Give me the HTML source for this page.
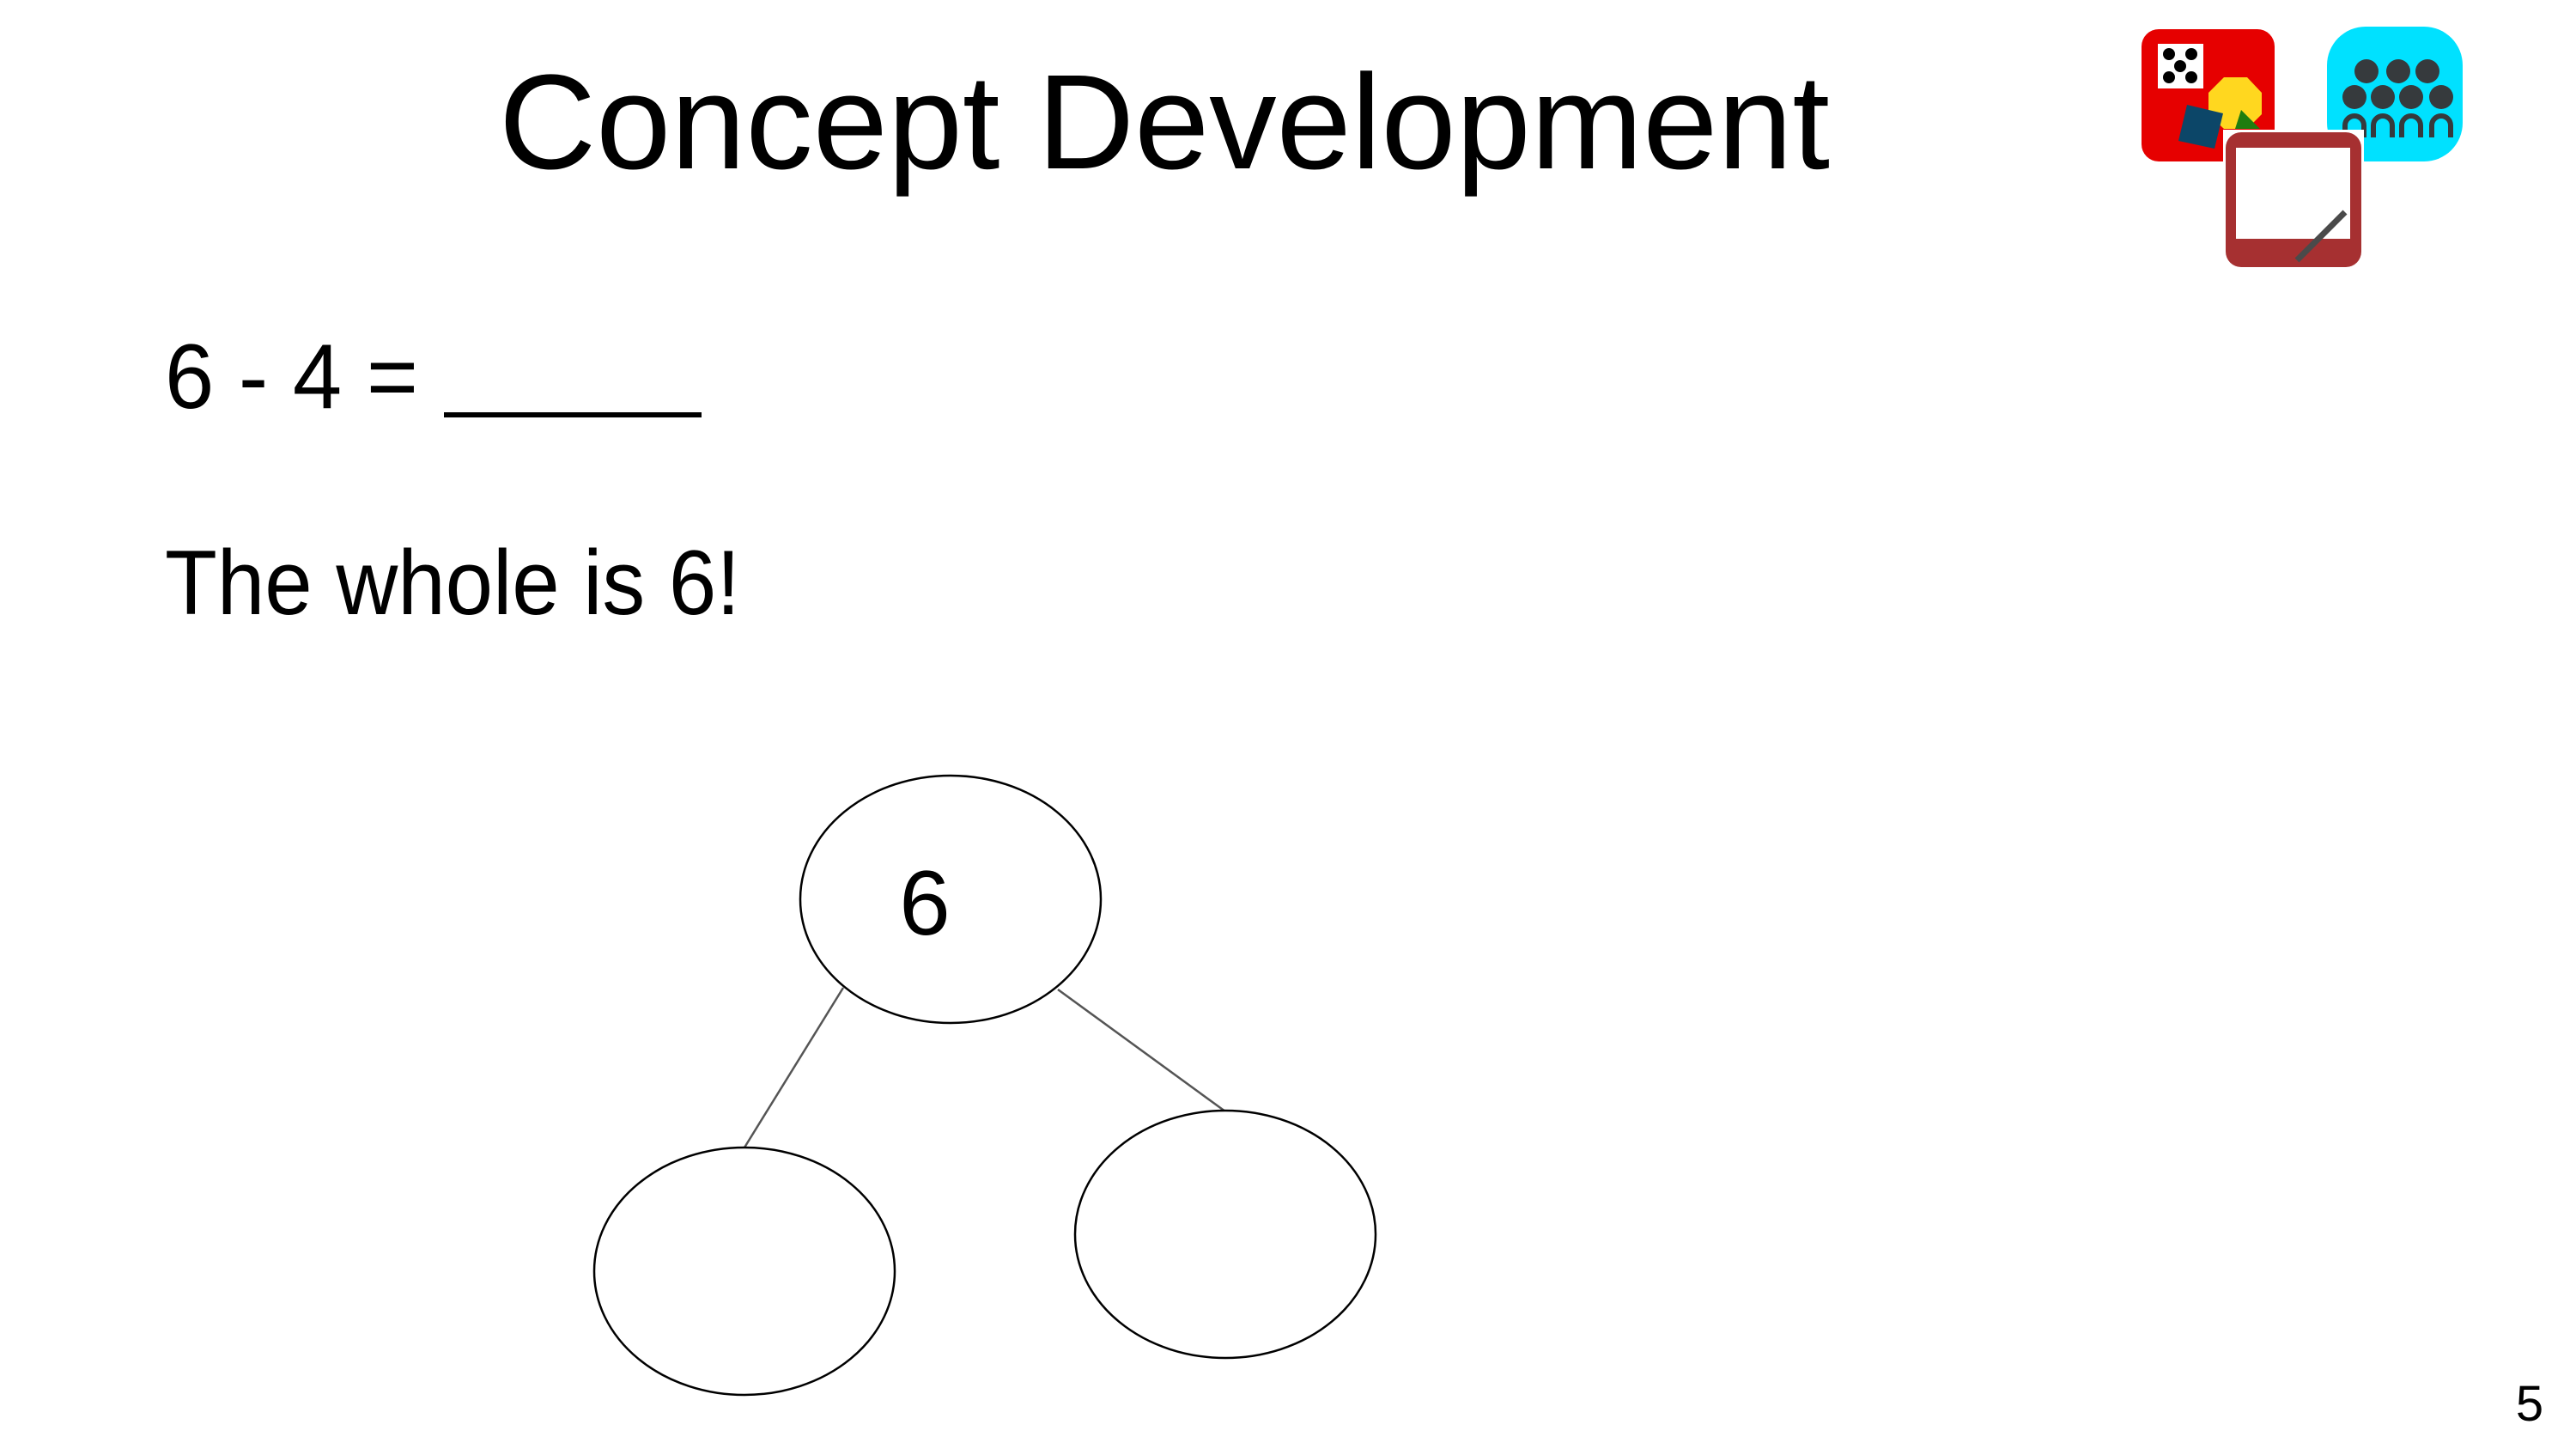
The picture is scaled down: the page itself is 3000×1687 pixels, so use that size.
<!DOCTYPE html>
<html><head><meta charset="utf-8"><style>
html,body{margin:0;padding:0;background:#fff;}
body{width:3000px;height:1687px;overflow:hidden;position:relative;}
svg{position:absolute;left:0;top:0;}
</style></head><body>
<svg width="3000" height="1687" viewBox="0 0 3000 1687" xmlns="http://www.w3.org/2000/svg" font-family="Liberation Sans, Arial, sans-serif">
<text x="581" y="196" font-size="157" textLength="1550" lengthAdjust="spacingAndGlyphs" fill="#000">Concept Development</text>
<text x="192" y="475" font-size="107" textLength="295" lengthAdjust="spacingAndGlyphs" fill="#000">6 - 4 =</text>
<line x1="517" y1="483" x2="817" y2="483" stroke="#000" stroke-width="6"/>
<text x="192" y="715" font-size="107" textLength="670" lengthAdjust="spacingAndGlyphs" fill="#000">The whole is 6!</text>

<line x1="982" y1="1150" x2="867" y2="1336" stroke="#555" stroke-width="2.5"/>
<line x1="1232" y1="1152" x2="1427" y2="1294" stroke="#555" stroke-width="2.5"/>
<ellipse cx="1107" cy="1047" rx="175" ry="144" fill="#fff" stroke="#000" stroke-width="2.5"/>
<ellipse cx="867" cy="1480" rx="175" ry="144" fill="#fff" stroke="#000" stroke-width="2.5"/>
<ellipse cx="1427" cy="1437" rx="175" ry="144" fill="#fff" stroke="#000" stroke-width="2.5"/>
<text x="1077" y="1088" font-size="107" text-anchor="middle" fill="#000">6</text>
<text x="2946" y="1654" font-size="58" text-anchor="middle" fill="#000">5</text>

<rect x="2494" y="34" width="155" height="154" rx="20" fill="#e60000"/>
<rect x="2513" y="51" width="53" height="52" fill="#fff"/>
<g fill="#000"><circle cx="2526" cy="63" r="7"/><circle cx="2552" cy="63" r="7"/><circle cx="2539" cy="77" r="7"/><circle cx="2526" cy="90" r="7"/><circle cx="2552" cy="90" r="7"/></g>
<polygon points="2590,90 2617,90 2634,108 2634,133 2617,150 2590,150 2572,133 2572,108" fill="#ffd71f"/>
<polygon points="2610,128 2632,150 2603,150" fill="#1e7d0f"/>
<polygon points="2547,122 2589,132 2579,173 2537,164" fill="#0c4668"/>
<rect x="2710" y="31" width="158" height="157" rx="45" fill="#00e1ff"/>
<g fill="#363a3d"><circle cx="2756" cy="83" r="14"/><circle cx="2793" cy="83" r="14"/><circle cx="2827" cy="83" r="14"/>
<circle cx="2742" cy="113" r="14"/><circle cx="2775" cy="113" r="14"/><circle cx="2808" cy="113" r="14"/><circle cx="2843" cy="113" r="14"/></g>
<g fill="none" stroke="#363a3d" stroke-width="6">
<path d="M2731,160 V146 a11,11 0 0 1 22,0 V160"/><path d="M2764,160 V146 a11,11 0 0 1 22,0 V160"/><path d="M2797,160 V146 a11,11 0 0 1 22,0 V160"/><path d="M2832,160 V146 a11,11 0 0 1 22,0 V160"/></g>
<rect x="2589" y="151" width="164" height="165" fill="#fff"/>
<rect x="2592" y="154" width="158" height="157" rx="18" fill="#a63031"/>
<rect x="2604" y="172" width="133" height="106" fill="#fff"/>
<line x1="2675" y1="303" x2="2731" y2="247" stroke="#4a4a4a" stroke-width="7"/>
</svg>
</body></html>
